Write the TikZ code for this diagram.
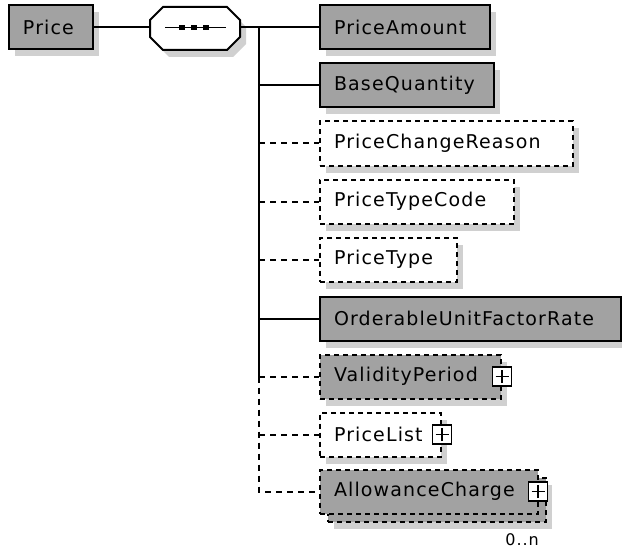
\documentclass[tikz,border=0pt]{standalone}
\usepackage{fontspec}
\setmainfont{DejaVu Sans}
\newfontfamily\xsdfont[LetterSpace=6]{DejaVu Sans}
\usetikzlibrary{positioning, shadows}
\definecolor{elemgrey}{RGB}{162, 162, 162}
\definecolor{shadowgrey}{RGB}{208, 208, 208}

\begin{document}
\begin{tikzpicture}[x=1pt, y=-1pt,
  elembox/.style={draw, line width=2pt, minimum height=44pt, inner xsep=14pt, inner ysep=0pt,
    align=left, anchor=west, font=\xsdfont\fontsize{19}{22}\selectfont},
  shadowed/.style={drop shadow={shadow xshift=6pt, shadow yshift=-7pt, fill=shadowgrey, opacity=1}},
  dashedge/.style={dash pattern=on 5pt off 4pt},
  reqelem/.style={elembox, fill=elemgrey, shadowed},
  optelem/.style={elembox, dashedge, fill=white, shadowed},
  optgrey/.style={elembox, dashedge, fill=elemgrey, shadowed},
  plusbox/.style={draw, line width=1.5pt, fill=white, minimum size=19pt, inner sep=0pt,
    path picture={\draw[line width=1.5pt]
      ([xshift=-6.5pt]path picture bounding box.center) -- ([xshift=6.5pt]path picture bounding box.center)
      ([yshift=-6.5pt]path picture bounding box.center) -- ([yshift=6.5pt]path picture bounding box.center);}},
  conn/.style={line width=2pt},
  optconn/.style={conn, dash pattern=on 6pt off 5pt}]
  \useasboundingbox (0,0) rectangle (622,551);

  % root element and sequence
  \node[reqelem, text width=56pt] (price) at (8,27.5) {Price};
  \node[minimum width=90pt, minimum height=43pt, inner sep=0pt] (seq) at (195,27.5) {};
  \fill[shadowgrey] (156,27) -- ++(13,-13) -- ++(64,0) -- ++(13,13) -- ++(0,17) -- ++(-13,13)
    -- ++(-64,0) -- ++(-13,-13) -- cycle;
  \filldraw[fill=white, line width=2pt] (150,20) -- ++(13,-13) -- ++(64,0) -- ++(13,13) -- ++(0,17)
    -- ++(-13,13) -- ++(-64,0) -- ++(-13,-13) -- cycle;
  \draw[line width=1.6pt] ([xshift=-30pt]seq.center) -- ([xshift=31pt]seq.center);
  \fill ([xshift=-13pt]seq.center) +(-2.8,-2.8) rectangle +(2.8,2.8);
  \fill ([xshift=-1pt]seq.center) +(-2.8,-2.8) rectangle +(2.8,2.8);
  \fill ([xshift=11pt]seq.center) +(-2.8,-2.8) rectangle +(2.8,2.8);

  % child elements
  \node[reqelem, text width=142pt] (pa) at (319,27.5) {PriceAmount};
  \node[reqelem, text width=146pt] (bq) at (319,85.5) {BaseQuantity};
  \node[optelem, text width=225pt] (pcr) at (319,143.5) {PriceChangeReason};
  \node[optelem, text width=166pt] (ptc) at (319,201.5) {PriceTypeCode};
  \node[optelem, text width=109pt] (pt) at (319,259.5) {PriceType};
  \node[reqelem, text width=273pt] (oufr) at (319,318.5) {OrderableUnitFactorRate};
  \node[optgrey, text width=153pt] (vp) at (319,376.5) {ValidityPeriod};
  \node[optelem, text width=93pt] (pl) at (319,434.5) {PriceList};
  \node[optgrey, text width=190pt] (acback) at (327,499.5) {};
  \node[elembox, dashedge, fill=elemgrey, text width=190pt] (ac) at (319,491.5) {AllowanceCharge};

  % expand markers
  \node[plusbox] (vpplus) at (vp.east) {};
  \node[plusbox] (plplus) at (pl.east) {};
  \node[plusbox] (acplus) at ([xshift=-1pt]ac.east) {};

  % occurrence
  \node[font=\xsdfont\fontsize{16}{18}\selectfont, anchor=east, inner sep=0pt] (acmult) at (539,540) {0..n};

  % connectors
  \coordinate (spinetop) at (259,27.5);
  \coordinate (spinemid) at (spinetop |- vp.west);
  \coordinate (spinebot) at (spinetop |- ac.west);
  \draw[conn] (price) -- (seq);
  \draw[conn] (seq) -- (pa);
  \draw[conn] (spinetop) -- (spinemid);
  \draw[conn] (spinetop |- bq.west) -- (bq);
  \draw[optconn] (spinetop |- pcr.west) -- (pcr);
  \draw[optconn] (spinetop |- ptc.west) -- (ptc);
  \draw[optconn] (spinetop |- pt.west) -- (pt);
  \draw[conn] (spinetop |- oufr.west) -- (oufr);
  \draw[optconn] (spinemid) -- (vp);
  \draw[optconn] (spinetop |- pl.west) -- (pl);
  \draw[optconn] (spinemid) -- (spinebot) -- (ac);
\end{tikzpicture}
\end{document}
